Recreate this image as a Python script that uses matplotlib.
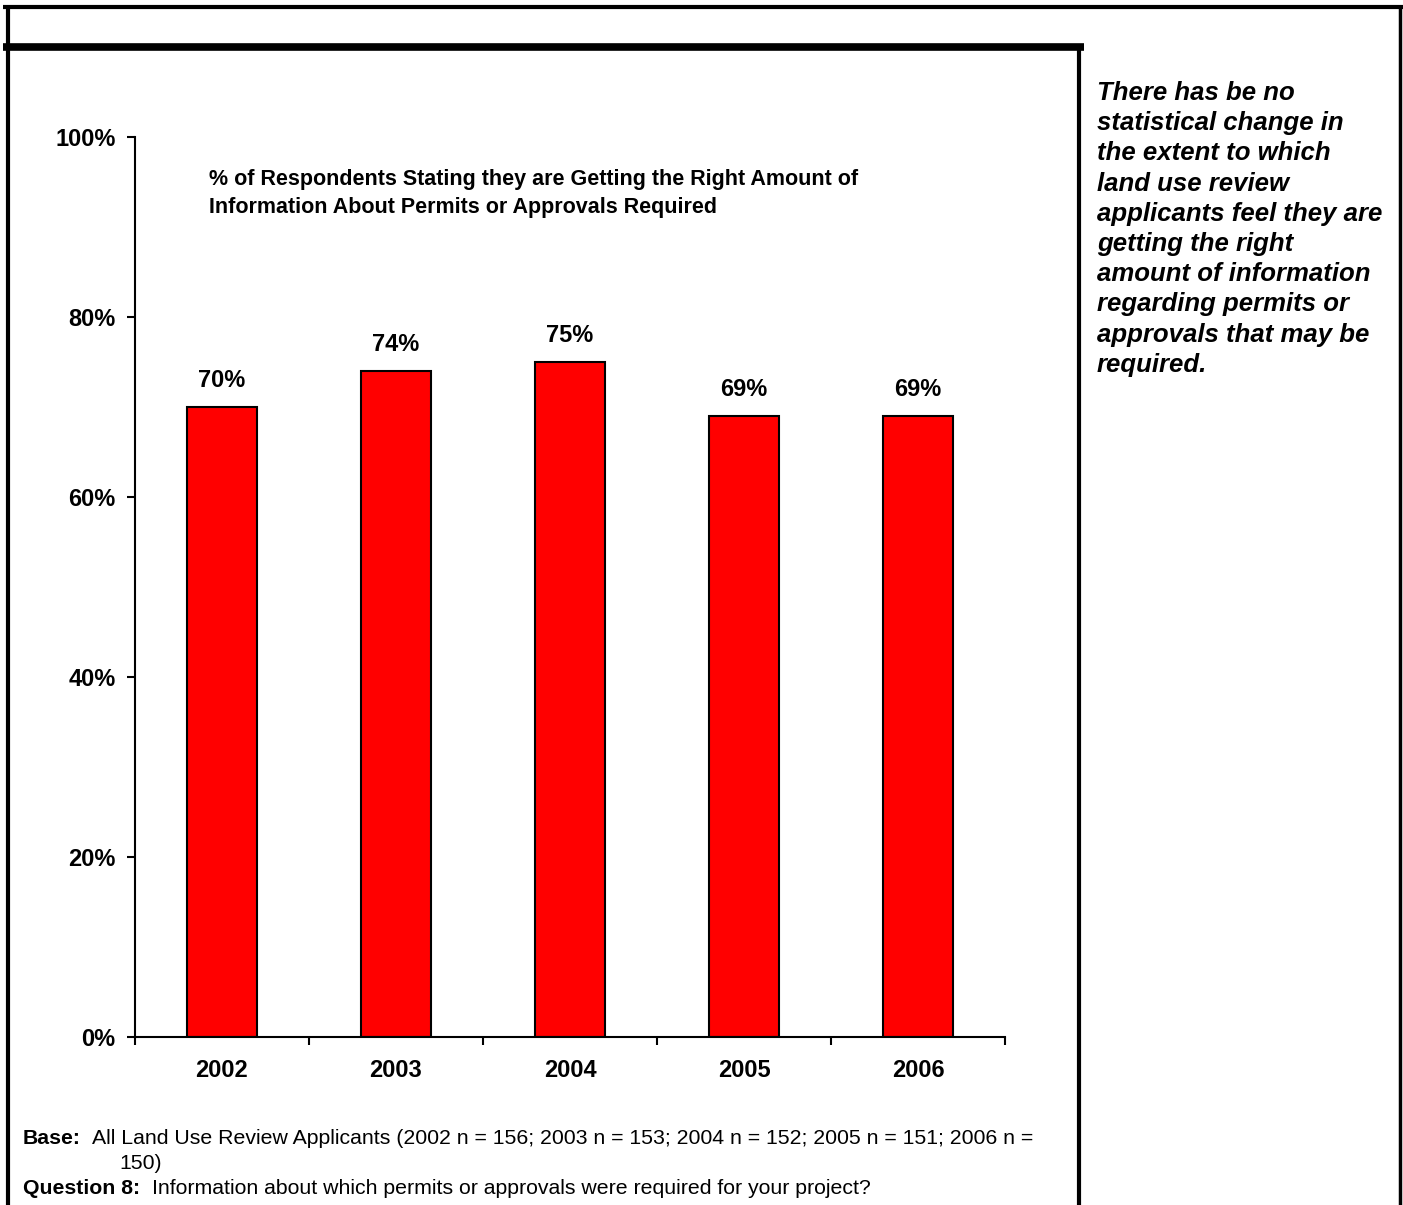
import matplotlib.pyplot as plt
from matplotlib.lines import Line2D

# Survey results by year
years = ['2002', '2003', '2004', '2005', '2006']
pct_right_amount = [70, 74, 75, 69, 69]
y_ticks = [0, 20, 40, 60, 80, 100]

chart_title = ['% of Respondents Stating they are Getting the Right Amount of',
               'Information About Permits or Approvals Required']
side_note = ['There has be no', 'statistical change in', 'the extent to which',
             'land use review', 'applicants feel they are', 'getting the right',
             'amount of information', 'regarding permits or',
             'approvals that may be', 'required.']

plt.rcParams['font.family'] = ['Liberation Sans', 'DejaVu Sans']

W, H = 1403, 1205
fig = plt.figure(figsize=(W / 100, H / 100), dpi=100)

def px(x, y):
    # pixel position (from top-left) to figure fraction
    return x / W, 1 - y / H

ax = fig.add_axes([135 / W, 168 / H, (1005 - 135) / W, (1037 - 137) / H])
xpos = list(range(len(years)))
ax.bar(xpos, pct_right_amount, width=0.4, color='#ff0000', edgecolor='black', linewidth=1.5)
for x, v in zip(xpos, pct_right_amount):
    ax.text(x, v + 2.2, f'{v}%', ha='center', va='baseline', fontsize=17, fontweight='bold')

ax.set_xlim(-0.5, len(years) - 0.5)
ax.set_ylim(0, 100)
ax.set_yticks(y_ticks)
ax.set_yticklabels([f'{t}%' for t in y_ticks], fontsize=17, fontweight='bold')
ax.set_xticks([i - 0.5 for i in range(len(years) + 1)])
ax.set_xticklabels([])
ax.set_xticks(xpos, minor=True)
ax.set_xticklabels(years, minor=True, fontsize=17, fontweight='bold')
ax.tick_params(axis='x', which='minor', length=0, pad=16)
ax.tick_params(axis='x', which='major', length=6, width=1.5, direction='out')
ax.tick_params(axis='y', length=6, width=1.5, direction='out', pad=8)
for side in ['top', 'right']:
    ax.spines[side].set_visible(False)
for side in ['left', 'bottom']:
    ax.spines[side].set_linewidth(1.5)

for i, line in enumerate(chart_title):
    fig.text(*px(209, 185 + i * 28), line, ha='left', va='baseline',
             fontsize=15.5, fontweight='bold')

# Frame lines around the page
def hline(x0, x1, y, lw):
    (a, b), (c, _) = px(x0, y), px(x1, y)
    fig.add_artist(Line2D([a, c], [b, b], color='black', linewidth=lw, solid_capstyle='butt'))

def vline(x, y0, y1, lw):
    (a, b), (_, d) = px(x, y0), px(x, y1)
    fig.add_artist(Line2D([a, a], [b, d], color='black', linewidth=lw, solid_capstyle='butt'))

hline(3, 1403, 6.5, 3)
vline(7.5, 5, 1205, 3)
vline(1400, 5, 1205, 2.5)
hline(3, 1084, 47, 5.5)
vline(1078.5, 44, 1205, 3)

# Commentary on the right
for i, line in enumerate(side_note):
    fig.text(*px(1097, 100 + i * 30.2), line, ha='left', va='baseline',
             fontsize=18.5, fontweight='bold', style='italic')

# Notes below the chart
fig.text(*px(23, 1144), 'Base:', ha='left', va='baseline', fontsize=15.3, fontweight='bold')
fig.text(*px(92, 1144),
         'All Land Use Review Applicants (2002 n = 156; 2003 n = 153; 2004 n = 152; 2005 n = 151; 2006 n =',
         ha='left', va='baseline', fontsize=15.3)
fig.text(*px(119, 1169), '150)', ha='left', va='baseline', fontsize=15.3)
fig.text(*px(23, 1194), 'Question 8:', ha='left', va='baseline', fontsize=15.3, fontweight='bold')
fig.text(*px(152, 1194), 'Information about which permits or approvals were required for your project?',
         ha='left', va='baseline', fontsize=15.3)

fig.savefig('out.png', dpi=100)
